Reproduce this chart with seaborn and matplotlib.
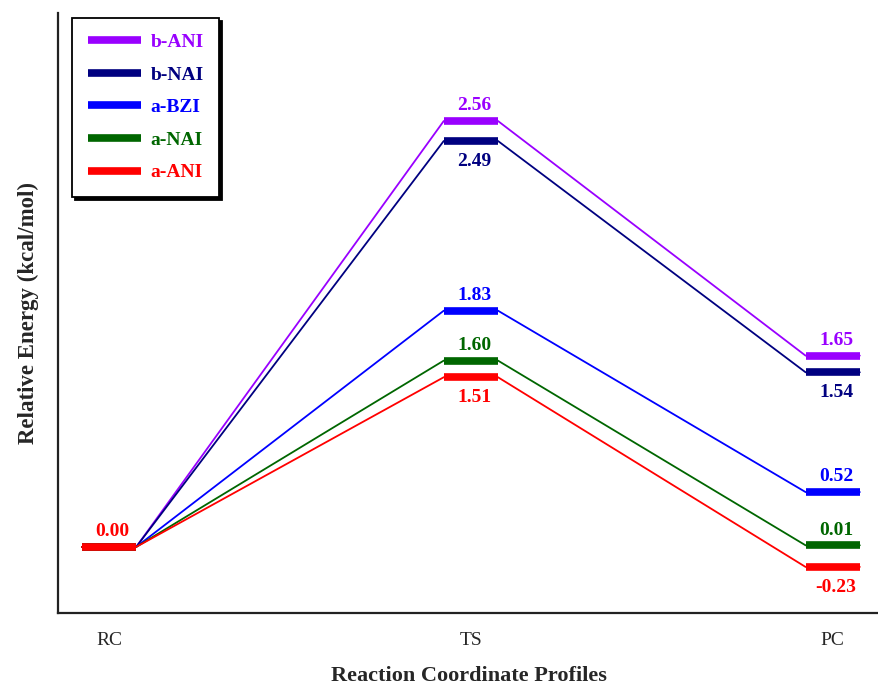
import pandas as pd
import matplotlib.pyplot as plt
import seaborn as sns

# ข้อมูลจากกราฟ
stages = ['RC', 'TS', 'PC']
series = ['b-ANI', 'b-NAI', 'a-BZI', 'a-NAI', 'a-ANI']
colors = ['#9900FF', '#000080', '#0000FF', '#006600', '#FF0000']

# ค่าพลังงานที่เขียนบนกราฟ (kcal/mol)
e_bani = ['0.00', '2.56', '1.65']
e_bnai = ['0.00', '2.49', '1.54']
e_abzi = ['0.00', '1.83', '0.52']
e_anai = ['0.00', '1.60', '0.01']
e_aani = ['0.00', '1.51', '-0.23']

# ระดับที่วาดจริงในรูป (อ่านจากตำแหน่งในภาพ)
lv_bani = [0.0, 2.56, 1.15]
lv_bnai = [0.0, 2.44, 1.05]
lv_abzi = [0.0, 1.42, 0.33]
lv_anai = [0.0, 1.12, 0.01]
lv_aani = [0.0, 1.02, -0.12]

# ตำแหน่งป้าย: +1 = อยู่เหนือเส้น, -1 = อยู่ใต้เส้น, 0 = ไม่แสดง
pos_bani = [0, 1, 1]
pos_bnai = [0, -1, -1]
pos_abzi = [0, 1, 1]
pos_anai = [0, 1, 1]
pos_aani = [1, -1, -1]

energies = [e_bani, e_bnai, e_abzi, e_anai, e_aani]
levels = [lv_bani, lv_bnai, lv_abzi, lv_anai, lv_aani]
places = [pos_bani, pos_bnai, pos_abzi, pos_anai, pos_aani]

HW = 0.075  # ครึ่งความกว้างของขีดระดับพลังงาน

sns.set_style('white')
plt.rcParams['font.family'] = ['Liberation Serif', 'DejaVu Serif']

fig = plt.figure(figsize=(8.79, 6.87), dpi=100)
ax = fig.add_axes([0.066, 0.1077, 0.934, 0.8733])

for name, col, lv, en, pl in zip(series, colors, levels, energies, places):
    # เส้นเชื่อมบาง ๆ ระหว่างขั้น
    xs, ys = [], []
    for i, y in enumerate(lv):
        xs += [i - HW, i + HW]
        ys += [y, y]
    df = pd.DataFrame({'x': xs, 'y': ys})
    sns.lineplot(data=df, x='x', y='y', sort=False, color=col, linewidth=1.3,
                 ax=ax, legend=False)
    # ขีดหนาที่ระดับพลังงาน
    for i, y in enumerate(lv):
        ax.plot([i - HW, i + HW], [y, y], color=col, linewidth=5.5,
                solid_capstyle='butt', label=name if i == 0 else None)
        if pl[i] != 0:
            off = 11 if pl[i] > 0 else -14.5
            ax.annotate(en[i], (i, y), xytext=(2.5, off), textcoords='offset points',
                        ha='center', va='center', color=col, fontsize=14,
                        fontweight='bold')

ax.set_xlim(-0.141, 2.128)
ax.set_ylim(-0.397, 3.209)
ax.set_xticks(range(len(stages)))
ax.set_xticklabels(stages, fontsize=14)
ax.set_yticks([])
ax.tick_params(axis='x', length=0, pad=14)
ax.set_xlabel('Reaction Coordinate Profiles', fontsize=16, fontweight='bold', labelpad=12)
ax.set_ylabel('Relative Energy (kcal/mol)', fontsize=16.5, fontweight='bold', labelpad=14)

for s in ['top', 'right']:
    ax.spines[s].set_visible(False)
for s in ['left', 'bottom']:
    ax.spines[s].set_color('#222222')
    ax.spines[s].set_linewidth(1.6)

leg = ax.legend(loc='upper left', bbox_to_anchor=(0.017, 0.992), borderaxespad=0,
                fancybox=False, shadow={'color': 'black', 'alpha': 1.0}, framealpha=1,
                edgecolor='black', labelcolor='linecolor', handlelength=2.75,
                handletextpad=0.5, labelspacing=0.77, borderpad=0.8,
                prop={'weight': 'bold', 'size': 14})
leg.get_frame().set_linewidth(1.3)

fig.savefig('out.png', dpi=100)
